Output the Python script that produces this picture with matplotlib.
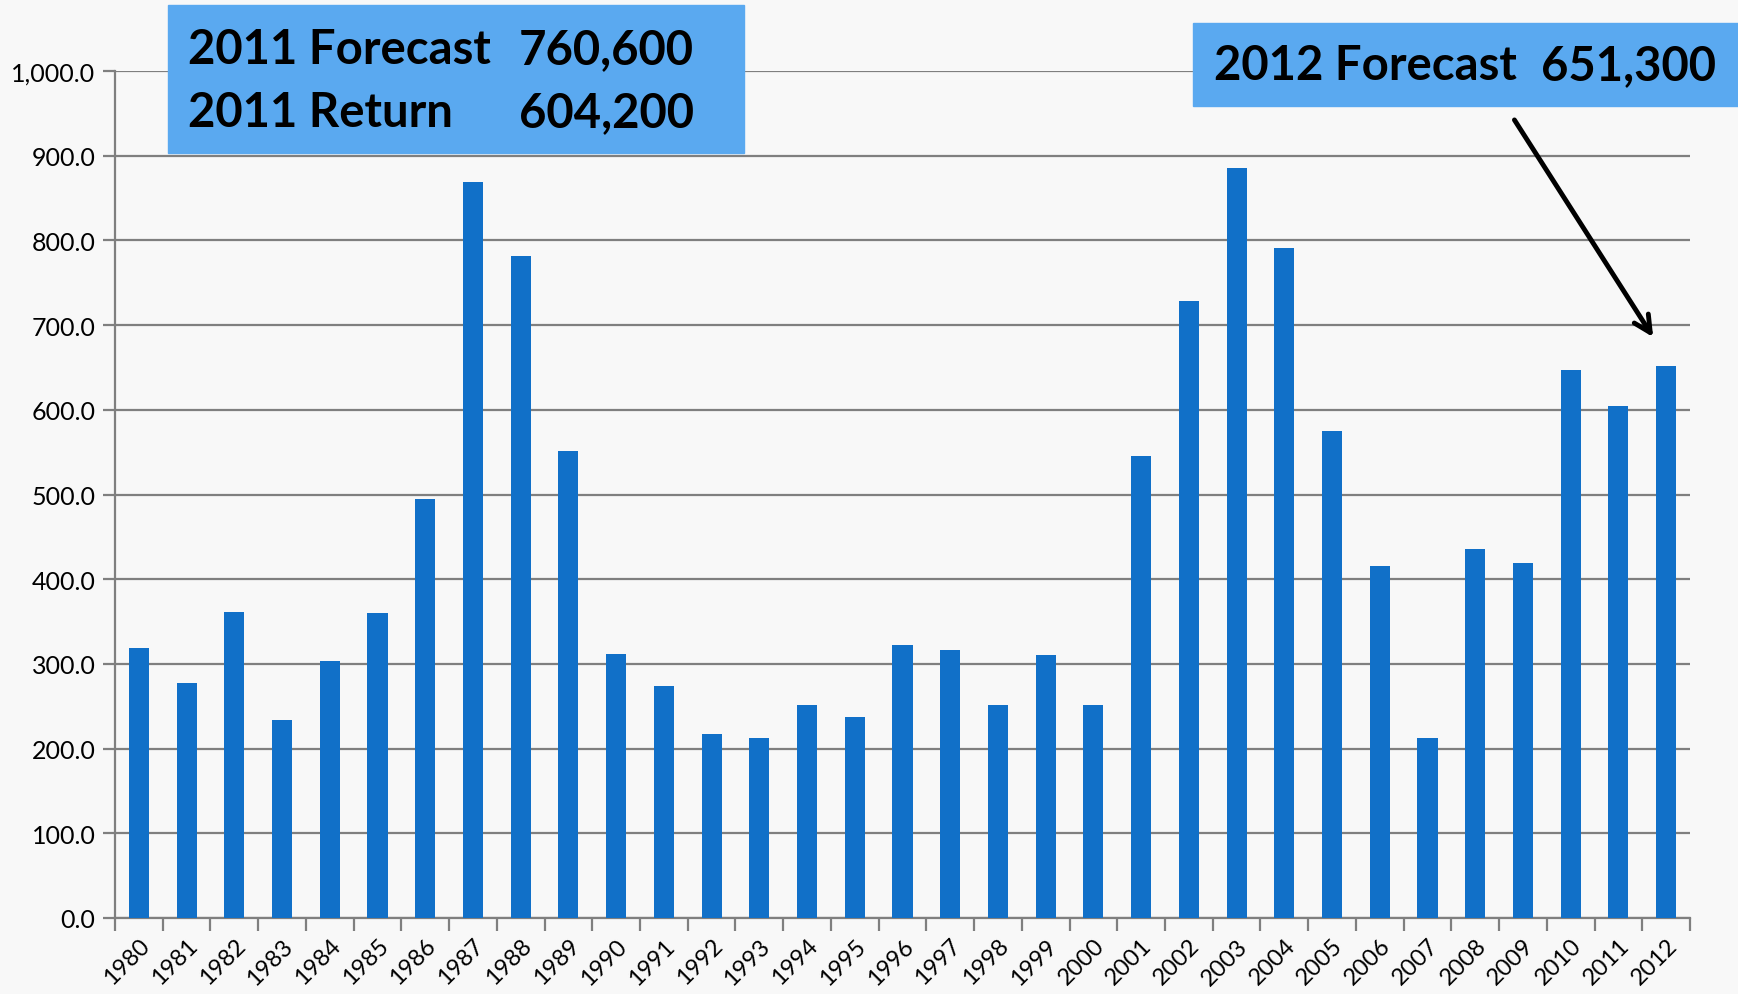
import matplotlib.pyplot as plt
from matplotlib.patches import Rectangle
import numpy as np

# Yearly returns (thousands)
years = [str(y) for y in range(1980, 2013)]
returns = [319, 277, 361, 234, 304, 360, 495, 869, 781, 551,
           312, 274, 217, 212, 251, 237, 322, 317, 251, 310,
           251, 545, 728, 886, 791, 575, 415, 212, 436, 419,
           647, 604.2, 651.3]

yticks = np.arange(0, 1001, 100)

bar_color = '#1170c8'
box_color = '#5aa9f0'
grid_color = '#7f7f7f'
bg_color = '#f8f8f8'

W, H = 1738, 995
fig = plt.figure(figsize=(W / 100, H / 100), dpi=100, facecolor=bg_color)
ax = fig.add_axes([115 / W, 1 - 919 / H, (1690 - 115) / W, (919 - 72) / H])
ax.set_facecolor(bg_color)

x = np.arange(len(years))
ax.bar(x, returns, width=0.42, color=bar_color, zorder=3)

ax.set_xlim(-0.5, len(years) - 0.5)
ax.set_ylim(0, 1000)

# horizontal gridlines
ax.set_yticks(yticks)
ax.set_yticklabels([f'{v:,.1f}' for v in yticks], fontsize=18, family='Lato')
ax.yaxis.grid(True, color=grid_color, lw=1.6, zorder=1)
ax.tick_params(axis='y', length=9, width=1.6, color=grid_color, pad=5)

# x ticks: labels under bars, tick marks on the category boundaries
ax.set_xticks(x)
ax.set_xticklabels(years, rotation=45, ha='right', rotation_mode='anchor',
                   fontsize=17, family='Lato')
ax.set_xticks(np.arange(-0.5, len(years)), minor=True)
ax.tick_params(axis='x', which='major', length=0, pad=12)
ax.tick_params(axis='x', which='minor', length=9, width=1.6, color=grid_color)

for side in ['top', 'right']:
    ax.spines[side].set_visible(False)
for side in ['left', 'bottom']:
    ax.spines[side].set_color(grid_color)
    ax.spines[side].set_linewidth(1.6)

# callout boxes (pixel coords from top-left -> figure fraction)
def fx(px):
    return px / W

def fy(py):
    return 1 - py / H

fig.patches.append(Rectangle((fx(168), fy(154)), fx(744 - 168), (154 - 6) / H,
                             transform=fig.transFigure, color=box_color, zorder=5))
fig.patches.append(Rectangle((fx(1193), fy(107)), fx(1738 - 1193), (107 - 24) / H,
                             transform=fig.transFigure, color=box_color, zorder=5))

tkw = dict(fontsize=34, fontweight='bold', family='Lato', color='black',
           va='center', zorder=6)
fig.text(fx(188), fy(50), '2011 Forecast', ha='left', **tkw)
fig.text(fx(694), fy(50), '760,600', ha='right', **tkw)
fig.text(fx(188), fy(113), '2011 Return', ha='left', **tkw)
fig.text(fx(694), fy(113), '604,200', ha='right', **tkw)
fig.text(fx(1214), fy(66), '2012 Forecast', ha='left', **tkw)
fig.text(fx(1716), fy(66), '651,300', ha='right', **tkw)

ax.annotate('', xy=(31.76, 683), xytext=(28.79, 945), xycoords='data',
            arrowprops=dict(arrowstyle='->', lw=3.5, color='black',
                            mutation_scale=30),
            annotation_clip=False, zorder=6)

fig.savefig('out.png', dpi=100, facecolor=bg_color)
